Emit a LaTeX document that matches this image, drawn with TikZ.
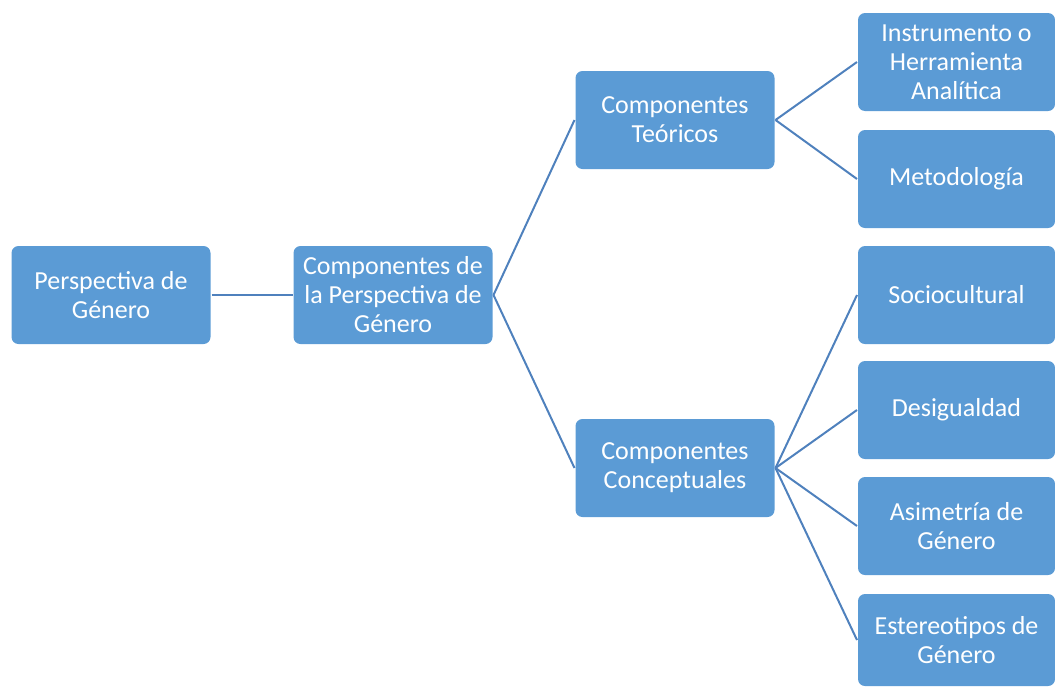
\documentclass[tikz,border=0pt]{standalone}
\usepackage{fontspec}
\setmainfont{Carlito}
\usepackage{tikz}
\definecolor{boxblue}{HTML}{5B9BD5}
\definecolor{lineblue}{HTML}{4F81BD}

\begin{document}
\begin{tikzpicture}[x = 1pt, y = -1pt, line width = 2pt,
                        box/.style = {rectangle, rounded corners = 7pt, fill = boxblue, text = white, align = center,
                                      minimum width = 199pt, minimum height = 98pt, inner sep = 0pt,
                                      font = \fontsize{26}{29}\selectfont},
                        leaf/.style = {box, minimum width = 197pt},
                        link/.style = {draw = lineblue}]
      \useasboundingbox (0, 0) rectangle (1055, 686);

      \node [box] (a) at (111, 295){Perspectiva de\\Género};
      \node [box] (b) at (393, 295){Componentes de\\la Perspectiva de\\Género};
      \node [box] (c) at (675, 120){Componentes\\Teóricos};
      \node [box] (d) at (675, 468){Componentes\\Conceptuales};

      \node [leaf] (e) at (956.5, 62){Instrumento o\\Herramienta\\Analítica};
      \node [leaf] (f) at (956.5, 179){Metodología};
      \node [leaf] (g) at (956.5, 295){Sociocultural};
      \node [leaf] (h) at (956.5, 410){Desigualdad};
      \node [leaf] (i) at (956.5, 526){Asimetría de\\Género};
      \node [leaf, minimum height = 92pt] (j) at (956.5, 640){Estereotipos de\\Género};

      \draw [link] (a) -- (b);
      \draw [link] (b.east) -- (c.west);
      \draw [link] (b.east) -- (d.west);
      \draw [link] (c.east) -- (e.west);
      \draw [link] (c.east) -- (f.west);
      \draw [link] (d.east) -- (g.west);
      \draw [link] (d.east) -- (h.west);
      \draw [link] (d.east) -- (i.west);
      \draw [link] (d.east) -- (j.west);
      \end{tikzpicture}
\end{document}
